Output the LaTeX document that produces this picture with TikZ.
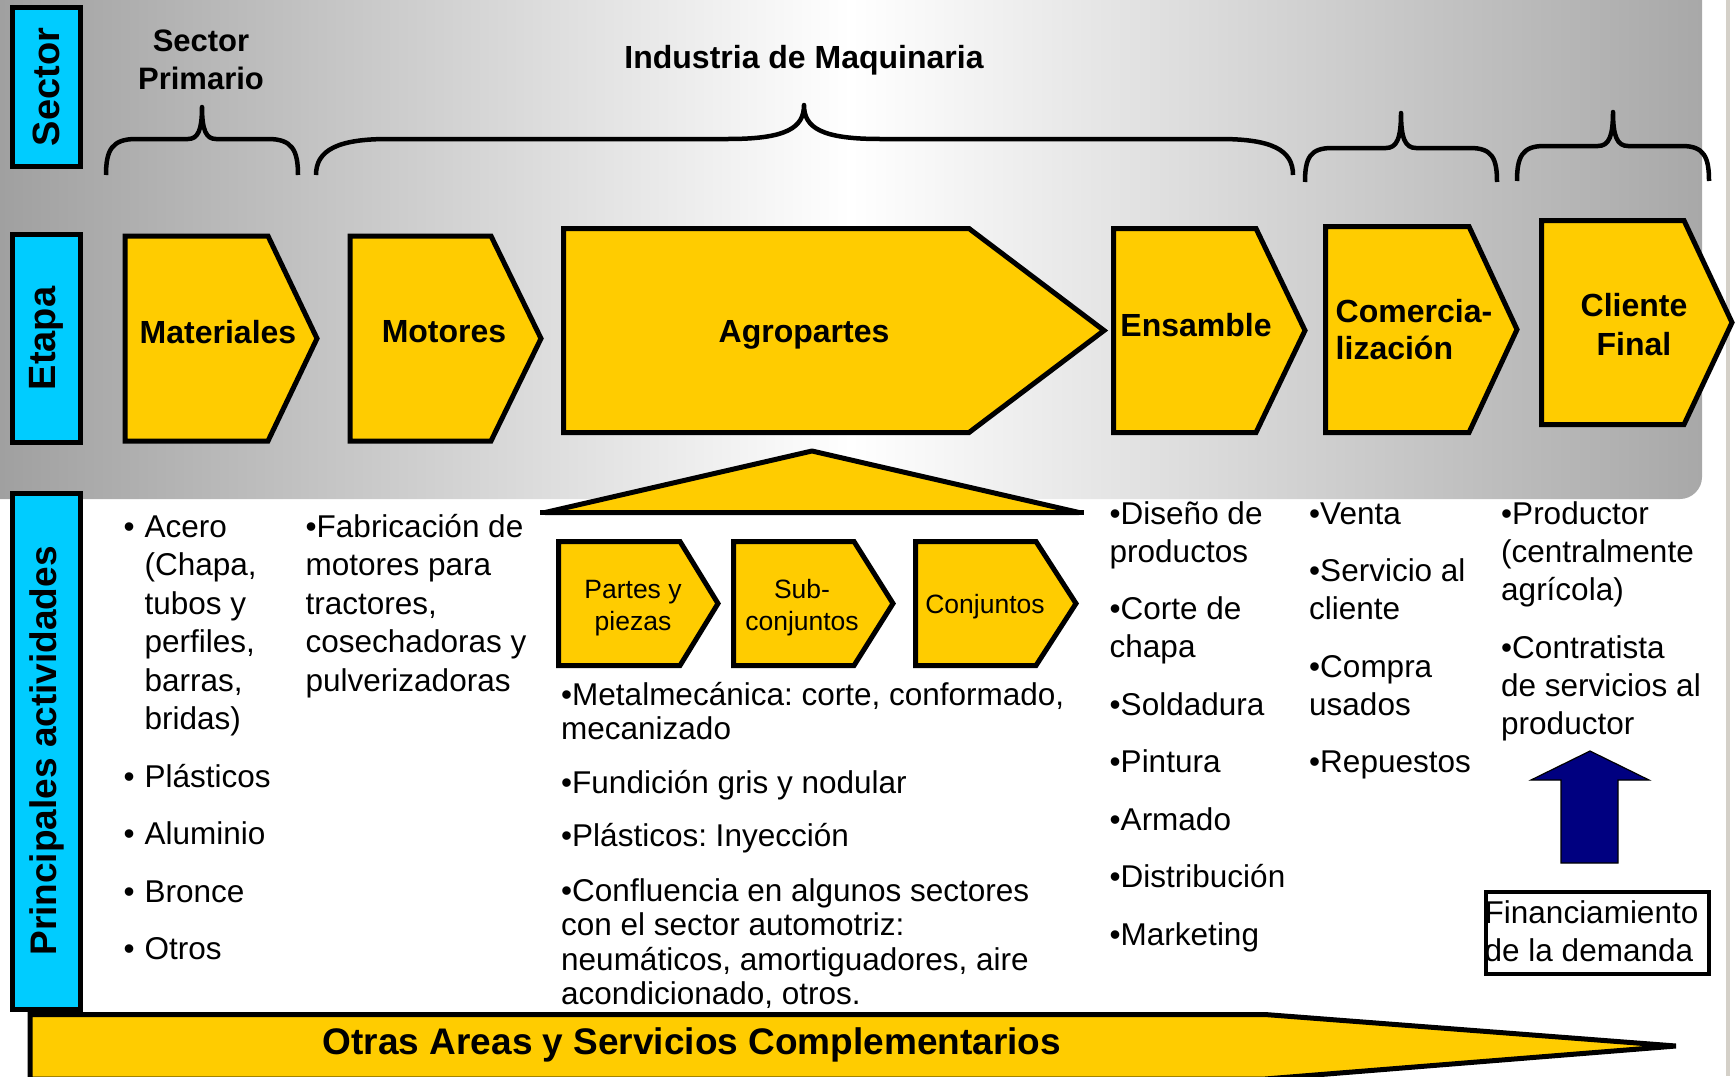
\documentclass[tikz,border=0pt]{standalone}
\usepackage{fontspec}
\setmainfont{Liberation Sans}
\frenchspacing
\definecolor{myyellow}{HTML}{FFCC00}
\definecolor{mycyan}{HTML}{00CCFF}
\definecolor{mynavy}{HTML}{000080}
\definecolor{bgleft}{HTML}{A0A0A0}
\definecolor{bgright}{HTML}{A8A8A8}
\definecolor{edgegrey}{HTML}{D4D0C8}
\newcommand\tabL[1]{\begin{tabular}[t]{@{}l@{}}#1\end{tabular}}
\newcommand\tabC[1]{\begin{tabular}[t]{@{}c@{}}#1\end{tabular}}
\tikzset{
  chev/.style={fill=myyellow, draw=black, line width=5pt},
  sidebox/.style={fill=mycyan, draw=black, line width=5pt},
  bracepath/.style={draw=black, line width=4.5pt, line join=round},
  sidelbl/.style={rotate=90, inner sep=0, font=\bfseries\fontsize{38}{40}\selectfont},
  biglbl/.style={inner sep=0, anchor=base, font=\bfseries\fontsize{32}{36}\selectfont},
  smalllbl/.style={inner sep=0, anchor=base, font=\fontsize{26.5}{32}\selectfont},
  txt/.style={inner sep=0, anchor=base west, font=\fontsize{31.5}{38.5}\selectfont},
}
\begin{document}
\frenchspacing
\begin{tikzpicture}[x=1pt,y=-1pt]
\useasboundingbox (0,0) rectangle (1736,1076);
\fill[white] (0,0) rectangle (1736,1076);
% grey background panel
\shade[left color=bgleft, right color=bgright, middle color=white]
  (0,0) -- (1702,0) -- (1702,477) .. controls (1702,489) and (1692,499) .. (1680,499) -- (0,499) -- cycle;
\draw[edgegrey, line width=4pt] (1728,0) -- (1728,1076);

% side boxes
\draw[sidebox] (12.5,7.5) rectangle (80.5,166.5);
\draw[sidebox] (12.5,234.5) rectangle (80.5,442.5);
\draw[sidebox] (12.5,493.5) rectangle (80.5,1009.5);
\node[sidelbl] (lsector) at (46.5,87) {Sector};
\node[sidelbl] (letapa) at (46.5,338.5) {Etapa};
\node[sidelbl, font=\bfseries\fontsize{37}{40}\selectfont] (lprin) at (46.5,751) {Principales actividades};

% braces
\draw[bracepath] (106,175) .. controls (106,150) and (112,139) .. (136,139) -- (188,139)
  .. controls (198,139) and (202,130) .. (202,107) .. controls (202,130) and (206,139) .. (216,139)
  -- (268,139) .. controls (292,139) and (298,150) .. (298,175);
\draw[bracepath] (316,175) .. controls (316,150) and (338,139) .. (388,139) -- (728,139)
  .. controls (786,139) and (804,128) .. (804,105) .. controls (804,128) and (822,139) .. (880,139)
  -- (1220,139) .. controls (1272,139) and (1293,150) .. (1293,175);
\draw[bracepath] (1305,182) .. controls (1305,158) and (1310,148) .. (1332,148) -- (1386,148)
  .. controls (1397,148) and (1401,138) .. (1401,113) .. controls (1401,138) and (1405,148) .. (1416,148)
  -- (1470,148) .. controls (1492,148) and (1497,158) .. (1497,182);
\draw[bracepath] (1517,181) .. controls (1517,157) and (1522,146) .. (1544,146) -- (1598,146)
  .. controls (1609,146) and (1613,136) .. (1613,112) .. controls (1613,136) and (1617,146) .. (1628,146)
  -- (1682,146) .. controls (1704,146) and (1709,157) .. (1709,181);
\node[biglbl, font=\bfseries\fontsize{31}{38}\selectfont] (secprim) at (201,51) {\tabC{Sector\\Primario}};
\node[biglbl] (indmaq) at (804,68) {Industria de Maquinaria};

% main chevrons
\draw[chev] (125,236) -- (268,236) -- (317,338.5) -- (268,441) -- (125,441) -- cycle;
\draw[chev] (350,236) -- (491,236) -- (541,338.5) -- (491,441) -- (350,441) -- cycle;
\draw[chev] (563.5,228.5) -- (969,228.5) -- (1104,330.5) -- (969,432.5) -- (563.5,432.5) -- cycle;
\draw[chev] (1113.5,228.5) -- (1256,228.5) -- (1305,330.5) -- (1256,432.5) -- (1113.5,432.5) -- cycle;
\draw[chev] (1325.5,226.5) -- (1469,226.5) -- (1517,329.5) -- (1469,432.5) -- (1325.5,432.5) -- cycle;
\draw[chev] (1541.5,220.5) -- (1684,220.5) -- (1732,322.5) -- (1684,424.5) -- (1541.5,424.5) -- cycle;
\node[biglbl] (materiales) at (218,343) {Materiales};
\node[biglbl] (motores) at (444,342) {Motores};
\node[biglbl] (agropartes) at (804,342) {Agropartes};
\node[biglbl] (ensamble) at (1196,336) {Ensamble};
\node[biglbl, anchor=base west, font=\bfseries\fontsize{32}{37}\selectfont] (comerc) at (1335.5,322) {\tabL{Comercia-\\lización}};
\node[biglbl, font=\bfseries\fontsize{32}{39}\selectfont] (cliente) at (1634,316) {\tabC{Cliente\\Final}};

% triangle under Agropartes
\draw[fill=myyellow, draw=black, line width=5pt, line join=bevel] (545,512.5) -- (812,451) -- (1079,512.5) -- cycle;
\draw[black, line width=5.5pt] (540,512.5) -- (1084,512.5);

% sub chevrons
\draw[chev] (558.5,541.5) -- (680,541.5) -- (718,603.5) -- (680,665.5) -- (558.5,665.5) -- cycle;
\draw[chev] (733.5,541.5) -- (854,541.5) -- (893,603.5) -- (854,665.5) -- (733.5,665.5) -- cycle;
\draw[chev] (915.5,541.5) -- (1036,541.5) -- (1076,603.5) -- (1036,665.5) -- (915.5,665.5) -- cycle;
\node[smalllbl] (partes) at (633,598) {\tabC{Partes y\\piezas}};
\node[smalllbl] (subconj) at (802,598) {\tabC{Sub-\\conjuntos}};
\node[smalllbl] (conj) at (985,613) {Conjuntos};

% activity texts
\node[txt] (c1) at (123.4,537) {\begin{tabular}[t]{@{}l@{\hspace{10pt}}l@{}}
• & Acero\\ & (Chapa,\\ & tubos y\\ & perfiles,\\ & barras,\\ & bridas)\\[19pt]
• & Plásticos\\[19pt] • & Aluminio\\[19pt] • & Bronce\\[19pt] • & Otros\end{tabular}};
\node[txt] (c2) at (305.5,537) {\tabL{•Fabricación de\\motores para\\tractores,\\cosechadoras y\\pulverizadoras}};
\node[txt, font=\fontsize{31.5}{34.5}\selectfont] (c3) at (561,705) {\tabL{•Metalmecánica: corte, conformado,\\mecanizado\\[19pt]
•Fundición gris y nodular\\[19pt] •Plásticos: Inyección\\[20pt]
•Confluencia en algunos sectores\\con el sector automotriz:\\neumáticos, amortiguadores, aire\\acondicionado, otros.}};
\node[txt, font=\fontsize{31.5}{38}\selectfont] (c4) at (1109.5,524) {\tabL{•Diseño de\\productos\\[19.5pt]
•Corte de\\chapa\\[19.5pt] •Soldadura\\[19.5pt] •Pintura\\[19.5pt] •Armado\\[19.5pt]
•Distribución\\[19.5pt] •Marketing}};
\node[txt, font=\fontsize{31.5}{38}\selectfont] (c5) at (1309,524) {\tabL{•Venta\\[19.5pt]
•Servicio al\\cliente\\[19.5pt] •Compra\\usados\\[19.5pt] •Repuestos}};
\node[txt, font=\fontsize{31.5}{38}\selectfont] (c6) at (1501,524) {\tabL{•Productor\\(centralmente\\agrícola)\\[20pt]
•Contratista\\de servicios al\\productor}};

% arrow and financing box
\draw[fill=mynavy, draw=black, line width=1.2pt] (1590,751) -- (1649,780) -- (1618,780) -- (1618,863)
  -- (1561,863) -- (1561,780) -- (1531,780) -- cycle;
\draw[black, line width=4.5pt, fill=white] (1486,892) rectangle (1709,974);
\node[txt, font=\fontsize{31.5}{38}\selectfont] (fin) at (1484.5,923) {\tabL{Financiamiento\\de la demanda}};

% bottom bar
\draw[fill=myyellow, draw=black, line width=5pt] (30,1014.5) -- (1265,1014.5) -- (1676,1046) -- (1265,1079) -- (30,1079) -- cycle;
\node[biglbl, font=\bfseries\fontsize{37}{40}\selectfont] (otras) at (692,1054) {Otras Areas y Servicios Complementarios};
\end{tikzpicture}
\end{document}
